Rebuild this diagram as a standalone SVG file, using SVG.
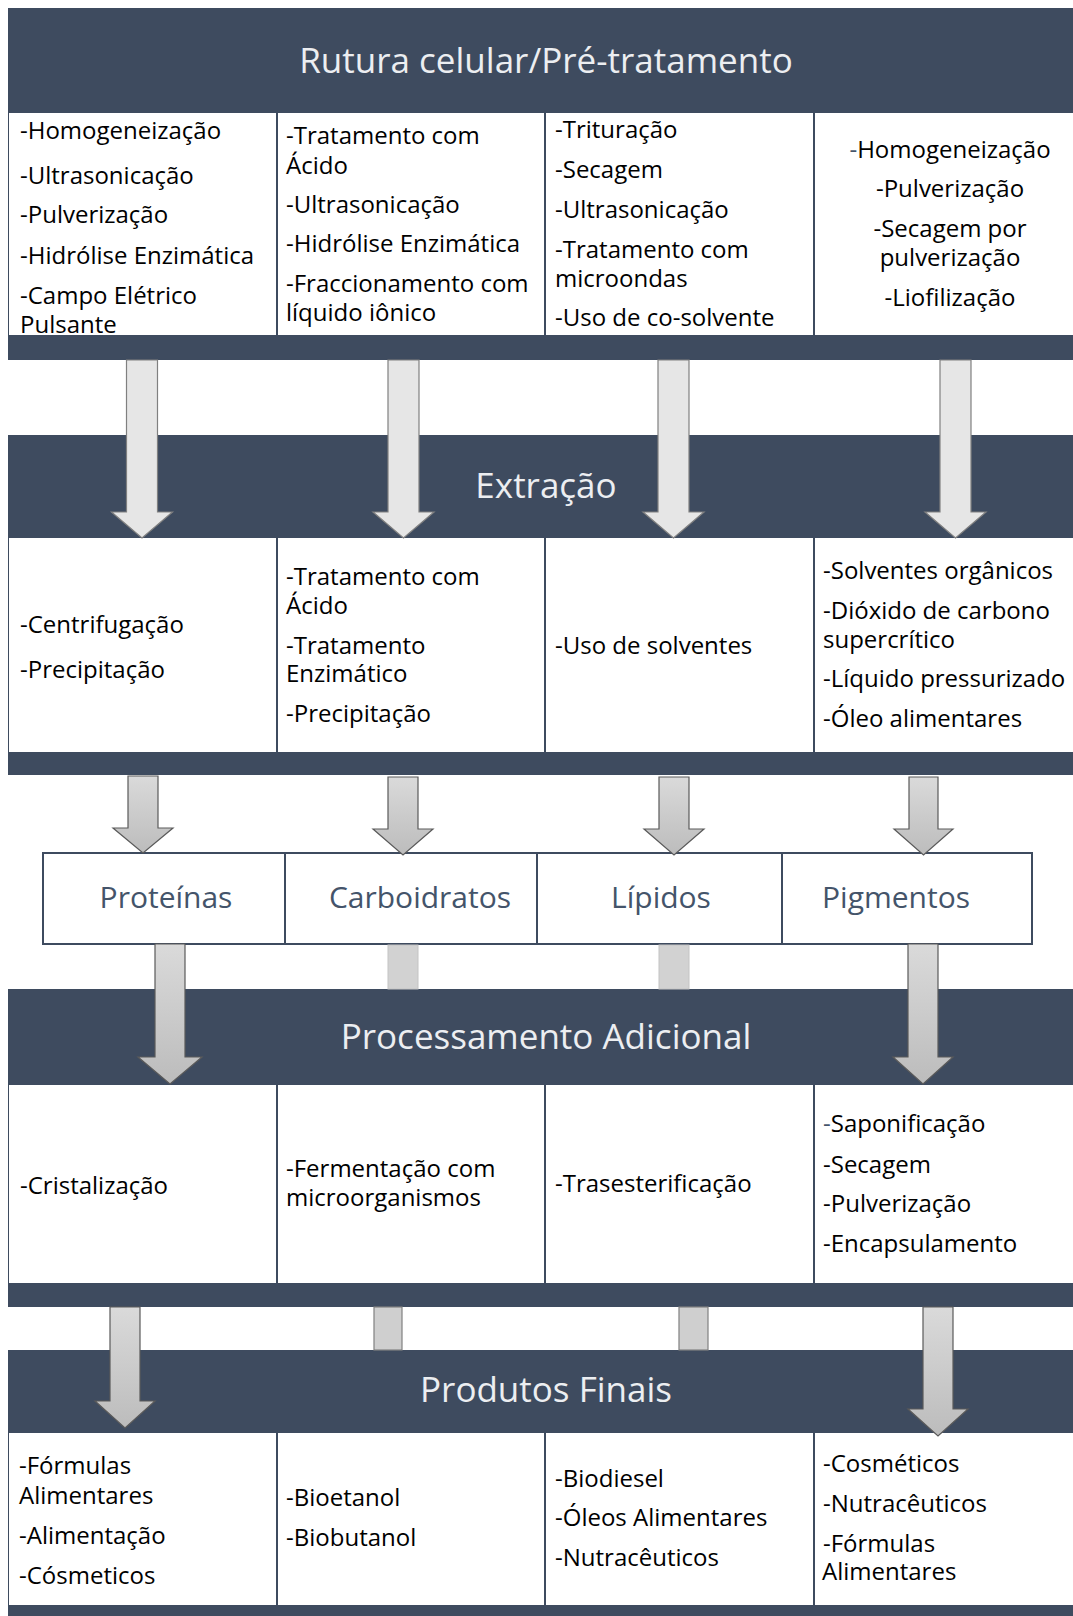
<svg xmlns="http://www.w3.org/2000/svg" width="1073" height="1616" viewBox="0 0 1073 1616">
<defs>
<linearGradient id="gArrow" x1="0" y1="0" x2="0" y2="1">
<stop offset="0" stop-color="#dadada"/>
<stop offset="1" stop-color="#bcbcbc"/>
</linearGradient>
<style>
.band{fill:#3e4b5f}
.box{fill:#ffffff}
.title{font-family:"Open Sans","Liberation Sans",sans-serif;font-size:35px;fill:#eceef1;text-anchor:middle}
.t{font-family:"Open Sans","Liberation Sans",sans-serif;font-size:24px;fill:#000000}
.c{text-anchor:middle}
.prod{fill:#ffffff;stroke:#3e4b5f;stroke-width:2}
.pt{font-family:"Open Sans","Liberation Sans",sans-serif;font-size:30px;fill:#44546a;text-anchor:middle}
.a1{fill:#e6e6e6;stroke:#808080;stroke-width:1.2}
.a2{fill:url(#gArrow);stroke:#5a5a5a;stroke-width:1.2}
.stubL{fill:#d2d2d2;stroke:#c4c4c4;stroke-width:1}
.stubD{fill:#cfcfcf;stroke:#808080;stroke-width:1.2}
.hy{fill:#44546a}
</style>
</defs>
<rect width="1073" height="1616" fill="#ffffff"/>

<!-- Section 1 -->
<g id="sec-rutura">
<rect class="band" x="8" y="8" width="1065" height="352"/>
<text class="title" x="546" y="73">Rutura celular/Pré-tratamento</text>
<g id="r1-proteinas">
<rect class="box" x="9" y="113" width="267" height="222"/>
<text class="t" x="20" y="139">-Homogeneização</text>
<text class="t" x="20" y="184">-Ultrasonicação</text>
<text class="t" x="20" y="223">-Pulverização</text>
<text class="t" x="20" y="264">-Hidrólise Enzimática</text>
<text class="t" x="20" y="304">-Campo Elétrico</text>
<text class="t" x="20" y="333">Pulsante</text>
</g>
<g id="r1-carboidratos">
<rect class="box" x="278" y="113" width="266" height="222"/>
<text class="t" x="286" y="144">-Tratamento com</text>
<text class="t" x="286" y="174">Ácido</text>
<text class="t" x="286" y="213">-Ultrasonicação</text>
<text class="t" x="286" y="252">-Hidrólise Enzimática</text>
<text class="t" x="286" y="292">-Fraccionamento com</text>
<text class="t" x="286" y="321">líquido iônico</text>
</g>
<g id="r1-lipidos">
<rect class="box" x="546" y="113" width="267" height="222"/>
<text class="t" x="555" y="138">-Trituração</text>
<text class="t" x="555" y="178">-Secagem</text>
<text class="t" x="555" y="218">-Ultrasonicação</text>
<text class="t" x="555" y="258">-Tratamento com</text>
<text class="t" x="555" y="287">microondas</text>
<text class="t" x="555" y="326">-Uso de co-solvente</text>
</g>
<g id="r1-pigmentos">
<rect class="box" x="815" y="113" width="258" height="222"/>
<text class="t c" x="950" y="158"><tspan class="hy">-</tspan>Homogeneização</text>
<text class="t c" x="950" y="197">-Pulverização</text>
<text class="t c" x="950" y="237">-Secagem por</text>
<text class="t c" x="950" y="266">pulverização</text>
<text class="t c" x="950" y="306">-Liofilização</text>
</g>
</g>

<!-- Section 2 -->
<g id="sec-extracao">
<rect class="band" x="8" y="435" width="1065" height="340"/>
<text class="title" x="546" y="498">Extração</text>
<g id="r2-proteinas">
<rect class="box" x="9" y="538" width="267" height="214"/>
<text class="t" x="20" y="633">-Centrifugação</text>
<text class="t" x="20" y="678">-Precipitação</text>
</g>
<g id="r2-carboidratos">
<rect class="box" x="278" y="538" width="266" height="214"/>
<text class="t" x="286" y="585">-Tratamento com</text>
<text class="t" x="286" y="614">Ácido</text>
<text class="t" x="286" y="654">-Tratamento</text>
<text class="t" x="286" y="682">Enzimático</text>
<text class="t" x="286" y="722">-Precipitação</text>
</g>
<g id="r2-lipidos">
<rect class="box" x="546" y="538" width="267" height="214"/>
<text class="t" x="555" y="654">-Uso de solventes</text>
</g>
<g id="r2-pigmentos">
<rect class="box" x="815" y="538" width="258" height="214"/>
<text class="t" x="823" y="579">-Solventes orgânicos</text>
<text class="t" x="823" y="619">-Dióxido de carbono</text>
<text class="t" x="823" y="648">supercrítico</text>
<text class="t" x="823" y="687">-Líquido pressurizado</text>
<text class="t" x="823" y="727">-Óleo alimentares</text>
</g>
</g>

<!-- Products -->
<g id="p-proteinas">
<rect class="prod" x="43" y="853" width="242" height="91"/>
<text class="pt" x="166" y="908">Proteínas</text>
</g>
<g id="p-carboidratos">
<rect class="prod" x="285" y="853" width="252" height="91"/>
<text class="pt" x="420" y="908">Carboidratos</text>
</g>
<g id="p-lipidos">
<rect class="prod" x="537" y="853" width="245" height="91"/>
<text class="pt" x="661" y="908">Lípidos</text>
</g>
<g id="p-pigmentos">
<rect class="prod" x="782" y="853" width="250" height="91"/>
<text class="pt" x="896" y="908">Pigmentos</text>
</g>

<!-- Section 3 -->
<g id="sec-processamento">
<rect class="band" x="8" y="989" width="1065" height="318"/>
<text class="title" x="546" y="1049">Processamento Adicional</text>
<g id="r3-proteinas">
<rect class="box" x="9" y="1085" width="267" height="198"/>
<text class="t" x="20" y="1194">-Cristalização</text>
</g>
<g id="r3-carboidratos">
<rect class="box" x="278" y="1085" width="266" height="198"/>
<text class="t" x="286" y="1177">-Fermentação com</text>
<text class="t" x="286" y="1206">microorganismos</text>
</g>
<g id="r3-lipidos">
<rect class="box" x="546" y="1085" width="267" height="198"/>
<text class="t" x="555" y="1192">-Trasesterificação</text>
</g>
<g id="r3-pigmentos">
<rect class="box" x="815" y="1085" width="258" height="198"/>
<text class="t" x="823" y="1132"><tspan class="hy">-</tspan>Saponificação</text>
<text class="t" x="823" y="1173">-Secagem</text>
<text class="t" x="823" y="1212">-Pulverização</text>
<text class="t" x="823" y="1252">-Encapsulamento</text>
</g>
</g>

<!-- Section 4 -->
<g id="sec-produtos">
<rect class="band" x="8" y="1350" width="1065" height="266"/>
<text class="title" x="546" y="1402">Produtos Finais</text>
<g id="r4-proteinas">
<rect class="box" x="9" y="1433" width="267" height="172"/>
<text class="t" x="19" y="1474">-Fórmulas</text>
<text class="t" x="19" y="1504">Alimentares</text>
<text class="t" x="19" y="1544">-Alimentação</text>
<text class="t" x="19" y="1584">-Cósmeticos</text>
</g>
<g id="r4-carboidratos">
<rect class="box" x="278" y="1433" width="266" height="172"/>
<text class="t" x="286" y="1506">-Bioetanol</text>
<text class="t" x="286" y="1546">-Biobutanol</text>
</g>
<g id="r4-lipidos">
<rect class="box" x="546" y="1433" width="267" height="172"/>
<text class="t" x="555" y="1487">-Biodiesel</text>
<text class="t" x="555" y="1526">-Óleos Alimentares</text>
<text class="t" x="555" y="1566">-Nutracêuticos</text>
</g>
<g id="r4-pigmentos">
<rect class="box" x="815" y="1433" width="258" height="172"/>
<text class="t" x="823" y="1472">-Cosméticos</text>
<text class="t" x="823" y="1512">-Nutracêuticos</text>
<text class="t" x="823" y="1552">-Fórmulas</text>
<text class="t" x="822" y="1580">Alimentares</text>
</g>
</g>

<!-- Connectors -->
<g id="connectors">
<polygon class="a1" points="126.5,360 157.5,360 157.5,512 172.5,512 142,538 111.5,512 126.5,512"/>
<polygon class="a1" points="388,360 419,360 419,512 434,512 403.5,538 373,512 388,512"/>
<polygon class="a1" points="658,360 689,360 689,512 704,512 673.5,538 643,512 658,512"/>
<polygon class="a1" points="940,360 971,360 971,512 986,512 955.5,538 925,512 940,512"/>

<polygon class="a2" points="128,776 158,776 158,828 173,828 143,853 113,828 128,828"/>
<polygon class="a2" points="388,777 418,777 418,829 433,829 403,855 373,829 388,829"/>
<polygon class="a2" points="659,777 689,777 689,829 704,829 674,855 644,829 659,829"/>
<polygon class="a2" points="909,777 938,777 938,829 953,829 923.5,855 894,829 909,829"/>

<polygon class="a2" points="155,944 185,944 185,1057 202,1057 170,1084 138,1057 155,1057"/>
<rect class="stubL" x="388" y="945" width="30" height="44"/>
<rect class="stubL" x="659" y="945" width="30" height="44"/>
<polygon class="a2" points="908,944 938,944 938,1057 953,1057 923,1084 893,1057 908,1057"/>

<polygon class="a2" points="110,1307 140,1307 140,1401 155,1401 125,1428 95,1401 110,1401"/>
<rect class="stubD" x="374" y="1307" width="28" height="43"/>
<rect class="stubD" x="679" y="1307" width="29" height="43"/>
<polygon class="a2" points="923,1307 953,1307 953,1409 968,1409 938,1436 908,1409 923,1409"/>
</g>
</svg>
